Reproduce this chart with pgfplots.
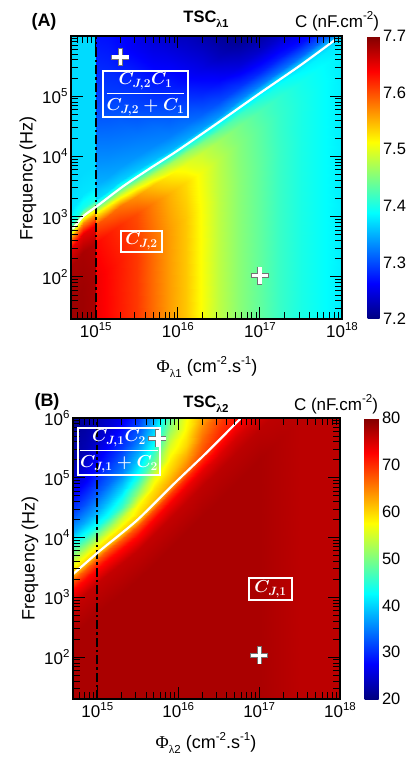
\documentclass[border=0pt]{standalone}
\usepackage{pgfplots}
\pgfplotsset{compat=1.18}
\usepackage{amsmath}
\usepackage{fontspec}
\setmainfont{Liberation Sans}
\newfontfamily\serifg{Liberation Serif}
\newcommand{\sups}[1]{\raisebox{0.42em}{\fontsize{11.5}{12}\selectfont #1}}
\newcommand{\subs}[1]{\raisebox{-0.32em}{\fontsize{11.5}{12}\selectfont #1}}
\newcommand{\tk}{\fontsize{17}{19}\selectfont}
\newsavebox{\fracA}\newsavebox{\fracB}\newsavebox{\cjA}\newsavebox{\cjB}
\pgfplotsset{
  heat/.style={
    scale only axis, anchor=south west,
    xmin=14.699, xmax=18, ymin=1.301, ymax=6,
    xtick={15,16,17,18},
    xticklabels={10\sups{15},10\sups{16},10\sups{17},10\sups{18}},
    minor xtick={14.778,14.845,14.903,14.954,15.301,15.477,15.602,15.699,15.778,15.845,15.903,15.954,16.301,16.477,16.602,16.699,16.778,16.845,16.903,16.954,17.301,17.477,17.602,17.699,17.778,17.845,17.903,17.954},
    minor ytick={1.477,1.602,1.699,1.778,1.845,1.903,1.954,2.301,2.477,2.602,2.699,2.778,2.845,2.903,2.954,3.301,3.477,3.602,3.699,3.778,3.845,3.903,3.954,4.301,4.477,4.602,4.699,4.778,4.845,4.903,4.954,5.301,5.477,5.602,5.699,5.778,5.845,5.903,5.954},
    tick align=inside, xtick pos=both, ytick pos=both,
    major tick length=12pt, minor tick length=7pt,
    tick style={black, line width=1pt},
    axis line style={black, line width=1.1pt},
    ticklabel style={font=\tk},
    axis on top,
    colormap/jet,
    colorbar,
  },
  cbar/.style={
    at={(parent axis.north east)}, anchor=north west,
    xtick=\empty, minor xtick={}, minor ytick={},
    major tick length=0pt, axis line style={draw=none},
    yticklabel style={font=\fontsize{16.5}{18}\selectfont},
  },
  vline/.style={black, line width=2.3pt, dash pattern=on 9pt off 3pt on 2.5pt off 3pt},
  pluso/.style={only marks, mark=+, mark size=9pt, mark options={line width=5pt, draw=black!55}},
  plusi/.style={only marks, mark=+, mark size=8.3pt, mark options={line width=3.2pt, draw=white}},
}
\begin{document}
\sbox{\fracA}{\fontsize{17}{19}\selectfont\color{white}\boldmath$\displaystyle\frac{C_{J,2}C_1}{C_{J,2}+C_1}$}%
\sbox{\fracB}{\fontsize{17}{19}\selectfont\color{white}\boldmath$\displaystyle\frac{C_{J,1}C_2}{C_{J,1}+C_2}$}%
\sbox{\cjA}{\fontsize{17}{19}\selectfont\color{white}\boldmath$C_{J,2}$}%
\sbox{\cjB}{\fontsize{17}{19}\selectfont\color{white}\boldmath$C_{J,1}$}%
\begin{tikzpicture}
\useasboundingbox (0,0) rectangle (408pt,-758pt);
% ---------------- top panel
\begin{axis}[heat, at={(71pt,-319pt)}, width=271pt, height=283pt,
  ytick={2,3,4,5},
  yticklabels={10\sups{2},10\sups{3},10\sups{4},10\sups{5}},
  point meta min=7.2, point meta max=7.7,
  colorbar style={cbar, xshift=17pt, width=12pt,
    ytick={7.2,7.3,7.4,7.5,7.6,7.7}, yticklabels={7.2,7.3,7.4,7.5,7.6,7.7}}]
\addplot[surf, shader=interp, mesh/cols=18, point meta=explicit] table[row sep=\\, x=u, y=v, meta=c] {
u v c\\
14.70 -2.04 7.685\\ 14.85 -1.78 7.685\\ 14.999 -1.63 7.68\\ 15.0 -1.63 7.645\\ 15.15 -1.49 7.635\\ 15.3 -1.33 7.625\\ 15.5 -1.15 7.61\\ 15.7 -0.98 7.585\\ 15.9 -0.81 7.56\\ 16.1 -0.63 7.54\\ 16.3 -0.45 7.51\\ 16.5 -0.25 7.48\\ 16.75 0.01 7.455\\ 17.0 0.26 7.435\\ 17.25 0.50 7.415\\ 17.5 0.74 7.40\\ 17.75 0.99 7.39\\ 18.0 1.23 7.38\\
14.70 1.56 7.685\\ 14.85 1.82 7.685\\ 14.999 1.97 7.68\\ 15.0 1.97 7.645\\ 15.15 2.11 7.635\\ 15.3 2.27 7.625\\ 15.5 2.45 7.61\\ 15.7 2.62 7.585\\ 15.9 2.79 7.56\\ 16.1 2.97 7.54\\ 16.3 3.15 7.51\\ 16.5 3.35 7.48\\ 16.75 3.61 7.455\\ 17.0 3.86 7.435\\ 17.25 4.10 7.415\\ 17.5 4.34 7.40\\ 17.75 4.59 7.39\\ 18.0 4.83 7.38\\
14.70 2.16 7.68\\ 14.85 2.42 7.68\\ 14.999 2.57 7.675\\ 15.0 2.57 7.635\\ 15.15 2.71 7.625\\ 15.3 2.87 7.615\\ 15.5 3.05 7.60\\ 15.7 3.22 7.575\\ 15.9 3.39 7.55\\ 16.1 3.57 7.53\\ 16.3 3.75 7.505\\ 16.5 3.95 7.478\\ 16.75 4.21 7.452\\ 17.0 4.46 7.432\\ 17.25 4.70 7.413\\ 17.5 4.94 7.40\\ 17.75 5.19 7.39\\ 18.0 5.43 7.38\\
14.70 2.46 7.65\\ 14.85 2.72 7.65\\ 14.999 2.87 7.645\\ 15.0 2.87 7.60\\ 15.15 3.01 7.59\\ 15.3 3.17 7.58\\ 15.5 3.35 7.565\\ 15.7 3.52 7.54\\ 15.9 3.69 7.52\\ 16.1 3.87 7.50\\ 16.3 4.05 7.485\\ 16.5 4.25 7.465\\ 16.75 4.51 7.445\\ 17.0 4.76 7.425\\ 17.25 5.00 7.41\\ 17.5 5.24 7.397\\ 17.75 5.49 7.388\\ 18.0 5.73 7.38\\
14.70 2.64 7.57\\ 14.85 2.90 7.57\\ 14.999 3.05 7.565\\ 15.0 3.05 7.52\\ 15.15 3.19 7.51\\ 15.3 3.35 7.50\\ 15.5 3.53 7.49\\ 15.7 3.70 7.48\\ 15.9 3.87 7.47\\ 16.1 4.05 7.46\\ 16.3 4.23 7.45\\ 16.5 4.43 7.435\\ 16.75 4.69 7.42\\ 17.0 4.94 7.405\\ 17.25 5.18 7.395\\ 17.5 5.42 7.385\\ 17.75 5.67 7.38\\ 18.0 5.91 7.375\\
14.70 2.76 7.47\\ 14.85 3.02 7.47\\ 14.999 3.17 7.47\\ 15.0 3.17 7.43\\ 15.15 3.31 7.43\\ 15.3 3.47 7.425\\ 15.5 3.65 7.42\\ 15.7 3.82 7.41\\ 15.9 3.99 7.405\\ 16.1 4.17 7.40\\ 16.3 4.35 7.395\\ 16.5 4.55 7.39\\ 16.75 4.81 7.385\\ 17.0 5.06 7.38\\ 17.25 5.30 7.375\\ 17.5 5.54 7.37\\ 17.75 5.79 7.365\\ 18.0 6.03 7.36\\
14.70 2.88 7.40\\ 14.85 3.14 7.40\\ 14.999 3.29 7.40\\ 15.0 3.29 7.37\\ 15.15 3.43 7.37\\ 15.3 3.59 7.365\\ 15.5 3.77 7.36\\ 15.7 3.94 7.355\\ 15.9 4.11 7.35\\ 16.1 4.29 7.345\\ 16.3 4.47 7.34\\ 16.5 4.67 7.335\\ 16.75 4.93 7.33\\ 17.0 5.18 7.325\\ 17.25 5.42 7.32\\ 17.5 5.66 7.315\\ 17.75 5.91 7.31\\ 18.0 6.15 7.31\\
14.70 3.11 7.375\\ 14.85 3.37 7.375\\ 14.999 3.52 7.375\\ 15.0 3.52 7.35\\ 15.15 3.66 7.345\\ 15.3 3.82 7.34\\ 15.5 4.00 7.335\\ 15.7 4.17 7.33\\ 15.9 4.34 7.325\\ 16.1 4.52 7.32\\ 16.3 4.70 7.31\\ 16.5 4.90 7.30\\ 16.75 5.16 7.29\\ 17.0 5.41 7.28\\ 17.25 5.65 7.275\\ 17.5 5.89 7.27\\ 17.75 6.14 7.265\\ 18.0 6.38 7.26\\
14.70 3.46 7.37\\ 14.85 3.72 7.37\\ 14.999 3.87 7.37\\ 15.0 3.87 7.335\\ 15.15 4.01 7.33\\ 15.3 4.17 7.325\\ 15.5 4.35 7.32\\ 15.7 4.52 7.315\\ 15.9 4.69 7.305\\ 16.1 4.87 7.295\\ 16.3 5.05 7.28\\ 16.5 5.25 7.265\\ 16.75 5.51 7.245\\ 17.0 5.76 7.235\\ 17.25 6.00 7.235\\ 17.5 6.24 7.235\\ 17.75 6.49 7.235\\ 18.0 6.73 7.235\\
14.70 3.86 7.37\\ 14.85 4.12 7.37\\ 14.999 4.27 7.37\\ 15.0 4.27 7.32\\ 15.15 4.41 7.315\\ 15.3 4.57 7.31\\ 15.5 4.75 7.30\\ 15.7 4.92 7.29\\ 15.9 5.09 7.28\\ 16.1 5.27 7.265\\ 16.3 5.45 7.25\\ 16.5 5.65 7.23\\ 16.75 5.91 7.21\\ 17.0 6.16 7.205\\ 17.25 6.40 7.21\\ 17.5 6.64 7.215\\ 17.75 6.89 7.215\\ 18.0 7.13 7.215\\
14.70 4.36 7.37\\ 14.85 4.62 7.37\\ 14.999 4.77 7.37\\ 15.0 4.77 7.30\\ 15.15 4.91 7.295\\ 15.3 5.07 7.29\\ 15.5 5.25 7.28\\ 15.7 5.42 7.265\\ 15.9 5.59 7.255\\ 16.1 5.77 7.24\\ 16.3 5.95 7.225\\ 16.5 6.15 7.205\\ 16.75 6.41 7.20\\ 17.0 6.66 7.20\\ 17.25 6.90 7.205\\ 17.5 7.14 7.21\\ 17.75 7.39 7.21\\ 18.0 7.63 7.21\\
14.70 4.96 7.37\\ 14.85 5.22 7.37\\ 14.999 5.37 7.37\\ 15.0 5.37 7.285\\ 15.15 5.51 7.28\\ 15.3 5.67 7.27\\ 15.5 5.85 7.255\\ 15.7 6.02 7.24\\ 15.9 6.19 7.225\\ 16.1 6.37 7.215\\ 16.3 6.55 7.205\\ 16.5 6.75 7.20\\ 16.75 7.01 7.20\\ 17.0 7.26 7.20\\ 17.25 7.50 7.20\\ 17.5 7.74 7.20\\ 17.75 7.99 7.20\\ 18.0 8.23 7.20\\
14.70 6.06 7.37\\ 14.85 6.32 7.37\\ 14.999 6.47 7.37\\ 15.0 6.47 7.26\\ 15.15 6.61 7.255\\ 15.3 6.77 7.25\\ 15.5 6.95 7.24\\ 15.7 7.12 7.225\\ 15.9 7.29 7.215\\ 16.1 7.47 7.205\\ 16.3 7.65 7.20\\ 16.5 7.85 7.20\\ 16.75 8.11 7.20\\ 17.0 8.36 7.20\\ 17.25 8.60 7.20\\ 17.5 8.84 7.20\\ 17.75 9.09 7.20\\ 18.0 9.33 7.20\\
};
\addplot[vline] coordinates {(15,1.301) (15,6)};
\addplot[white, line width=2.2pt, smooth] coordinates {(14.72,2.80) (14.77,2.88) (14.85,3.01) (15.02,3.18) (15.34,3.51) (15.67,3.81) (16.0,4.10) (16.5,4.57) (17.0,5.05) (17.5,5.52) (17.91,5.93)};
\addplot[pluso] coordinates {(15.30,5.65) (17.0,2.02)};
\addplot[plusi] coordinates {(15.30,5.65) (17.0,2.02)};
\end{axis}
% ---------------- bottom panel
\begin{axis}[heat, at={(73pt,-699pt)}, width=267pt, height=281pt,
  ytick={2,3,4,5,6},
  yticklabels={10\sups{2},10\sups{3},10\sups{4},10\sups{5},10\sups{6}},
  point meta min=20, point meta max=80,
  colorbar style={cbar, xshift=16pt, width=14pt,
    ytick={20,30,40,50,60,70,80}, yticklabels={20,30,40,50,60,70,80}}]
\addplot[surf, shader=interp, mesh/cols=17, point meta=explicit] table[row sep=\\, x=u, y=v, meta=c] {
u v c\\
14.70 -3.11 77.5\\ 14.85 -2.94 77.5\\ 15.0 -2.76 77.5\\ 15.15 -2.59 77.5\\ 15.3 -2.43 77.5\\ 15.5 -2.20 77.5\\ 15.7 -1.94 77.5\\ 15.9 -1.67 77.5\\ 16.1 -1.41 77.5\\ 16.3 -1.14 77.5\\ 16.5 -0.87 77.5\\ 16.7 -0.60 77.5\\ 17.0 -0.20 77.5\\ 17.25 0.14 77\\ 17.5 0.48 76.5\\ 17.75 0.81 76.5\\ 18.0 1.15 76.5\\
14.70 2.39 77.5\\ 14.85 2.56 77.5\\ 15.0 2.74 77.5\\ 15.15 2.91 77.5\\ 15.3 3.07 77.5\\ 15.5 3.30 77.5\\ 15.7 3.56 77.5\\ 15.9 3.83 77.5\\ 16.1 4.09 77.5\\ 16.3 4.36 77.5\\ 16.5 4.63 77.5\\ 16.7 4.90 77.5\\ 17.0 5.30 77.5\\ 17.25 5.64 77\\ 17.5 5.98 76.5\\ 17.75 6.31 76.5\\ 18.0 6.65 76.5\\
14.70 2.89 76\\ 14.85 3.06 76\\ 15.0 3.24 76\\ 15.15 3.41 76\\ 15.3 3.57 76\\ 15.5 3.80 76\\ 15.7 4.06 76\\ 15.9 4.33 76\\ 16.1 4.59 76\\ 16.3 4.86 76.3\\ 16.5 5.13 76.5\\ 16.7 5.40 76.5\\ 17.0 5.80 76.5\\ 17.25 6.14 76.3\\ 17.5 6.48 76\\ 17.75 6.81 76\\ 18.0 7.15 76\\
14.70 3.14 72\\ 14.85 3.31 72\\ 15.0 3.49 72\\ 15.15 3.66 72\\ 15.3 3.82 72\\ 15.5 4.05 72\\ 15.7 4.31 72.5\\ 15.9 4.58 73\\ 16.1 4.84 73.5\\ 16.3 5.11 74\\ 16.5 5.38 74.5\\ 16.7 5.65 75\\ 17.0 6.05 75\\ 17.25 6.39 75\\ 17.5 6.73 75\\ 17.75 7.06 75\\ 18.0 7.40 75\\
14.70 3.29 67\\ 14.85 3.46 67\\ 15.0 3.64 67\\ 15.15 3.81 67\\ 15.3 3.97 67\\ 15.5 4.20 67.5\\ 15.7 4.46 68\\ 15.9 4.73 69\\ 16.1 4.99 70\\ 16.3 5.26 71\\ 16.5 5.53 72.5\\ 16.7 5.80 73.3\\ 17.0 6.20 73.5\\ 17.25 6.54 73.5\\ 17.5 6.88 73.5\\ 17.75 7.21 73.5\\ 18.0 7.55 73.5\\
14.70 3.39 61\\ 14.85 3.56 61\\ 15.0 3.74 60.5\\ 15.15 3.91 60.5\\ 15.3 4.07 60.5\\ 15.5 4.30 61\\ 15.7 4.56 62\\ 15.9 4.83 64\\ 16.1 5.09 66\\ 16.3 5.36 68.5\\ 16.5 5.63 70.5\\ 16.7 5.90 72\\ 17.0 6.30 72.5\\ 17.25 6.64 72.5\\ 17.5 6.98 72.5\\ 17.75 7.31 72.5\\ 18.0 7.65 72.5\\
14.70 3.49 58.1\\ 14.85 3.66 58.3\\ 15.0 3.84 58.4\\ 15.15 4.01 58.5\\ 15.3 4.17 58.7\\ 15.5 4.40 59.4\\ 15.7 4.66 60.8\\ 15.9 4.93 62.5\\ 16.1 5.19 64.5\\ 16.3 5.46 67.5\\ 16.5 5.73 70\\ 16.7 6.00 71.5\\ 17.0 6.40 72\\ 17.25 6.74 72\\ 17.5 7.08 72\\ 17.75 7.41 72\\ 18.0 7.75 72\\
14.70 3.64 53\\ 14.85 3.81 52.7\\ 15.0 3.99 52\\ 15.15 4.16 52.3\\ 15.3 4.32 54.3\\ 15.5 4.55 57.5\\ 15.7 4.81 59.2\\ 15.9 5.08 60.5\\ 16.1 5.34 62.5\\ 16.3 5.61 66.3\\ 16.5 5.88 69\\ 16.7 6.15 71\\ 17.0 6.55 71.5\\ 17.25 6.89 71.5\\ 17.5 7.23 71.5\\ 17.75 7.56 71.5\\ 18.0 7.90 71.5\\
14.70 3.84 46\\ 14.85 4.01 44.7\\ 15.0 4.19 43.6\\ 15.15 4.36 43.8\\ 15.3 4.52 46.2\\ 15.5 4.75 51.2\\ 15.7 5.01 55.8\\ 15.9 5.28 58.5\\ 16.1 5.54 60\\ 16.3 5.81 64.5\\ 16.5 6.08 67.5\\ 16.7 6.35 70\\ 17.0 6.75 70.5\\ 17.25 7.09 70.5\\ 17.5 7.43 70.5\\ 17.75 7.76 70.5\\ 18.0 8.10 70.5\\
14.70 4.09 37.6\\ 14.85 4.26 37.6\\ 15.0 4.44 37.6\\ 15.15 4.61 38.8\\ 15.3 4.77 41\\ 15.5 5.00 44.2\\ 15.7 5.26 48.9\\ 15.9 5.53 55.5\\ 16.1 5.79 58\\ 16.3 6.06 62\\ 16.5 6.33 66\\ 16.7 6.60 68.5\\ 17.0 7.00 69\\ 17.25 7.34 69\\ 17.5 7.68 69\\ 17.75 8.01 69\\ 18.0 8.35 69\\
14.70 4.39 31.8\\ 14.85 4.56 32.2\\ 15.0 4.74 32.8\\ 15.15 4.91 33.8\\ 15.3 5.07 35.5\\ 15.5 5.30 39.2\\ 15.7 5.56 43\\ 15.9 5.83 51\\ 16.1 6.09 56.5\\ 16.3 6.36 59\\ 16.5 6.63 64\\ 16.7 6.90 67\\ 17.0 7.30 67.5\\ 17.25 7.64 67.5\\ 17.5 7.98 67.5\\ 17.75 8.31 67.5\\ 18.0 8.65 67.5\\
14.70 4.79 26.3\\ 14.85 4.96 26.9\\ 15.0 5.14 28.3\\ 15.15 5.31 29.6\\ 15.3 5.47 31.3\\ 15.5 5.70 33.4\\ 15.7 5.96 38\\ 15.9 6.23 44\\ 16.1 6.49 52\\ 16.3 6.76 56\\ 16.5 7.03 61\\ 16.7 7.30 64\\ 17.0 7.70 65\\ 17.25 8.04 65\\ 17.5 8.38 65\\ 17.75 8.71 65\\ 18.0 9.05 65\\
14.70 5.29 22\\ 14.85 5.46 23.1\\ 15.0 5.64 24.2\\ 15.15 5.81 25.3\\ 15.3 5.97 26.7\\ 15.5 6.20 28.5\\ 15.7 6.46 32\\ 15.9 6.73 37\\ 16.1 6.99 45\\ 16.3 7.26 52\\ 16.5 7.53 57\\ 16.7 7.80 60\\ 17.0 8.20 61\\ 17.25 8.54 61\\ 17.5 8.88 61\\ 17.75 9.21 61\\ 18.0 9.55 61\\
14.70 6.09 20.8\\ 14.85 6.26 21\\ 15.0 6.44 21\\ 15.15 6.61 21.5\\ 15.3 6.77 23\\ 15.5 7.00 24\\ 15.7 7.26 27\\ 15.9 7.53 30\\ 16.1 7.79 36\\ 16.3 8.06 45\\ 16.5 8.33 50\\ 16.7 8.60 54\\ 17.0 9.00 55\\ 17.25 9.34 55\\ 17.5 9.68 55\\ 17.75 10.01 55\\ 18.0 10.35 55\\
};
\addplot[vline] coordinates {(15,1.301) (15,6)};
\addplot[white, line width=2.2pt, smooth] coordinates {(14.70,3.39) (15.04,3.79) (15.49,4.29) (15.94,4.89) (16.35,5.42) (16.74,5.95) (16.78,6.0)};
\addplot[pluso] coordinates {(15.74,5.66) (17.0,2.03)};
\addplot[plusi] coordinates {(15.74,5.66) (17.0,2.03)};
\end{axis}
% ---------------- texts
\node[font=\fontsize{18}{20}\selectfont\bfseries] at (44pt,-22pt) {(A)};
\node[anchor=base, font=\fontsize{16.5}{18}\selectfont\bfseries] at (206pt,-22pt) {TSC\subs{{\serifg λ}1}};
\node[anchor=base, font=\fontsize{17}{19}\selectfont] at (337pt,-27pt) {C (nF.cm\sups{-2})};
\node[anchor=base, font=\fontsize{18}{20}\selectfont] at (207pt,-372pt) {{\serifg Φ}\subs{{\serifg λ}1} (cm\sups{-2}.s\sups{-1})};
\node[rotate=90, font=\fontsize{18}{20}\selectfont] at (28pt,-178pt) {Frequency (Hz)};
\draw[white, line width=1.4pt] (103pt,-71pt) rectangle (188pt,-117pt);
\node at (145.5pt,-94pt) {\usebox{\fracA}};
\draw[white, line width=1.4pt] (121pt,-231pt) rectangle (162pt,-252pt);
\node at (141.5pt,-241.5pt) {\usebox{\cjA}};
%
\node[font=\fontsize{18}{20}\selectfont\bfseries] at (47pt,-402pt) {(B)};
\node[anchor=base, font=\fontsize{16.5}{18}\selectfont\bfseries] at (206pt,-407pt) {TSC\subs{{\serifg λ}2}};
\node[anchor=base, font=\fontsize{17}{19}\selectfont] at (336pt,-410pt) {C (nF.cm\sups{-2})};
\node[anchor=base, font=\fontsize{18}{20}\selectfont] at (206pt,-748pt) {{\serifg Φ}\subs{{\serifg λ}2} (cm\sups{-2}.s\sups{-1})};
\node[rotate=90, font=\fontsize{18}{20}\selectfont] at (30pt,-558pt) {Frequency (Hz)};
\draw[white, line width=1.4pt] (78pt,-428pt) rectangle (160pt,-475pt);
\node at (119pt,-451.5pt) {\usebox{\fracB}};
\draw[white, line width=1.4pt] (249pt,-578pt) rectangle (292pt,-600pt);
\node at (270.5pt,-589pt) {\usebox{\cjB}};
\end{tikzpicture}
\end{document}
